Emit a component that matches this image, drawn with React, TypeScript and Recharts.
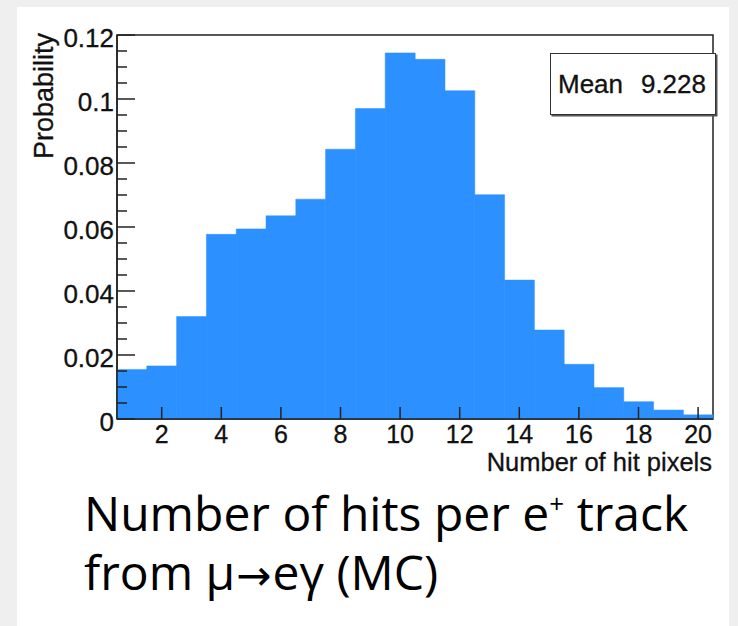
import React from "react";
import { Bar, BarChart, XAxis, YAxis, ReferenceArea } from "recharts";

// histogram bins (1 hit wide, centred on integers)
const bins = ["1", "2", "3", "4", "5", "6", "7", "8", "9", "10", "11", "12", "13", "14", "15", "16", "17", "18", "19", "20"];
const probability = [
  0.0155, 0.0166, 0.032, 0.0577, 0.0594, 0.0635, 0.0687, 0.0843, 0.097, 0.1144,
  0.1124, 0.1026, 0.0701, 0.0434, 0.0278, 0.0171, 0.0098, 0.0054, 0.0028, 0.0013,
];
const xLabels = ["2", "4", "6", "8", "10", "12", "14", "16", "18", "20"];
const yMajor = [0, 0.02, 0.04, 0.06, 0.08, 0.1, 0.12];
const yTicks = [
  0, 0.005, 0.01, 0.015, 0.02, 0.025, 0.03, 0.035, 0.04, 0.045, 0.05, 0.055, 0.06,
  0.065, 0.07, 0.075, 0.08, 0.085, 0.09, 0.095, 0.1, 0.105, 0.11, 0.115, 0.12,
];
const meanValue = "9.228";

const data = bins.map((b, i) => ({ bin: b, p: probability[i] }));

const W = 738;
const H = 479;
const PLOT_LEFT = 117;
const PLOT_BOTTOM = 419;
const AXIS = "#222";
const FONT = "'Liberation Sans', Arial, sans-serif";

const XTick = (props: any) => {
  const { x, payload } = props;
  if (!xLabels.includes(String(payload.value))) return null;
  return (
    <g>
      <line x1={x} x2={x} y1={PLOT_BOTTOM} y2={PLOT_BOTTOM - 12} stroke={AXIS} strokeWidth={1.5} />
      <text x={x} y={443} textAnchor="middle" fontSize={25} fontFamily={FONT} fill="#111" stroke="#111" strokeWidth={0.3}>
        {payload.value}
      </text>
    </g>
  );
};

const YTick = (props: any) => {
  const { y, payload } = props;
  const v = payload.value;
  const major = yMajor.some((m) => Math.abs(m - v) < 1e-9);
  return (
    <g>
      <line x1={PLOT_LEFT} x2={PLOT_LEFT + (major ? 18 : 10)} y1={y} y2={y} stroke={AXIS} strokeWidth={1.5} />
      {major && (
        <text x={PLOT_LEFT - 3} y={y + 12} textAnchor="end" fontSize={26} fontFamily={FONT} fill="#111" stroke="#111" strokeWidth={0.3}>
          {String(v)}
        </text>
      )}
    </g>
  );
};

export default function App() {
  return (
    <div style={{ position: "absolute", left: 0, top: 0, width: 738, height: 626, background: "#efefef", overflow: "hidden" }}>
      <div style={{ position: "absolute", left: 17, top: 7, width: 712, height: 619, background: "#fff" }} />
      <div style={{ position: "absolute", left: 0, top: 0 }}>
        <BarChart
          width={W}
          height={H}
          data={data}
          barCategoryGap={0}
          margin={{ top: 35, right: 25, left: 17, bottom: 0 }}
        >
          <XAxis
            dataKey="bin"
            height={60}
            interval={0}
            tickLine={false}
            axisLine={{ stroke: AXIS, strokeWidth: 1.5 }}
            tick={<XTick />}
            label={{
              value: "Number of hit pixels",
              content: () => (
                <text x={712} y={471} textAnchor="end" fontSize={25.5} fontFamily={FONT} fill="#111" stroke="#111" strokeWidth={0.3}>
                  Number of hit pixels
                </text>
              ),
            }}
          />
          <YAxis
            type="number"
            domain={[0, 0.12]}
            ticks={yTicks}
            interval={0}
            width={100}
            tickLine={false}
            axisLine={{ stroke: AXIS, strokeWidth: 1.5 }}
            tick={<YTick />}
            label={{
              value: "Probability",
              content: () => (
                <text
                  x={53}
                  y={33}
                  transform="rotate(-90, 53, 33)"
                  textAnchor="end"
                  fontSize={27}
                  fontFamily={FONT}
                  fill="#111"
                  stroke="#111"
                  strokeWidth={0.3}
                >
                  Probability
                </text>
              ),
            }}
          />
          <Bar dataKey="p" fill="#2c90ff" stroke="#2c90ff" strokeWidth={0.5} isAnimationActive={false} />
          <ReferenceArea
            x1="1"
            x2="20"
            y1={0}
            y2={0.12}
            fill="none"
            stroke={AXIS}
            strokeWidth={1.5}
            fillOpacity={0}
            ifOverflow="visible"
          />
        </BarChart>
      </div>
      <div
        style={{
          position: "absolute",
          left: 550,
          top: 53,
          width: 164,
          height: 60,
          border: "1.5px solid #333",
          boxShadow: "1.5px 1.5px 0 #555",
          background: "#fff",
          fontFamily: FONT,
          fontSize: 26,
          color: "#111",
          WebkitTextStroke: "0.3px #111",
        }}
      >
        <span style={{ position: "absolute", left: 7, top: 15 }}>Mean</span>
        <span style={{ position: "absolute", right: 9, top: 15 }}>{meanValue}</span>
      </div>
      <div
        style={{
          position: "absolute",
          left: 84,
          top: 483,
          fontFamily: "'Open Sans', 'Noto Sans', sans-serif",
          fontSize: 48,
          lineHeight: "59px",
          color: "#000",
          whiteSpace: "nowrap",
        }}
      >
        <div>
          Number of hits per e<sup style={{ fontSize: 26, verticalAlign: "top", lineHeight: "40px" }}>+</sup> track
        </div>
        <div>
          from μ
          <span style={{ fontFamily: "'DejaVu Sans', sans-serif", fontSize: 42, margin: "0 1px" }}>→</span>
          eγ (MC)
        </div>
      </div>
    </div>
  );
}
